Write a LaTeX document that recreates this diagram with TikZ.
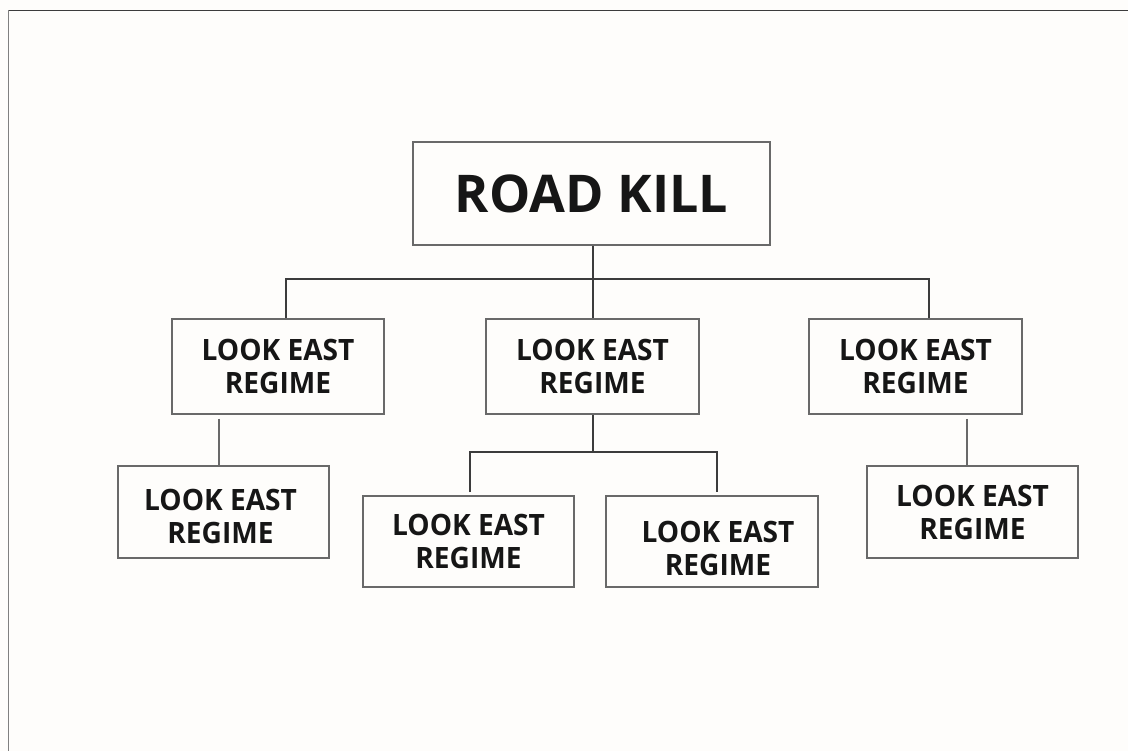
\documentclass[tikz,border=0pt]{standalone}
\usepackage{fontspec}
\setmainfont{Open Sans}
\newfontfamily\narrowfont[FakeStretch=0.955]{Open Sans}
\definecolor{bg}{RGB}{254,253,251}
\definecolor{boxgray}{RGB}{105,105,105}
\definecolor{conngray}{RGB}{60,60,60}
\definecolor{txtblack}{RGB}{22,22,22}
\begin{document}
\begin{tikzpicture}[x=1pt,y=-1pt,
  box/.style={draw=boxgray,line width=1.3pt,inner sep=0pt,align=center,text=txtblack,
    font=\narrowfont\fontsize{29.4}{33}\selectfont\bfseries},
  txt/.style={align=center,text=txtblack,inner sep=0pt,font=\narrowfont\fontsize{29.4}{33}\selectfont\bfseries},
  conn/.style={draw=conngray,line width=1.1pt},
  connl/.style={draw=boxgray,line width=1.3pt}]
\fill[bg] (0,0) rectangle (1128,751);
\useasboundingbox (0,0) rectangle (1128,751);
% frame
\coordinate (ftl) at (8.5,10.5);
\coordinate (ftr) at (1128,10.5);
\coordinate (fbl) at (8.5,751);
\draw[draw=conngray,line width=1.3pt] (ftl) -- (ftr);
\draw[draw=gray,line width=1.8pt] (ftl) -- (fbl);
% nodes
\node[box,minimum width=357pt,minimum height=103pt,font=\fontsize{52}{56}\selectfont\bfseries] (root) at (591.5,193.5) {ROAD KILL};
\node[box,minimum width=212pt,minimum height=95pt] (a) at (278,366.5) {LOOK EAST\\REGIME};
\node[box,minimum width=213pt,minimum height=95pt] (b) at (592.5,366.5) {LOOK EAST\\REGIME};
\node[box,minimum width=213pt,minimum height=95pt] (c) at (915.5,366.5) {LOOK EAST\\REGIME};
\node[box,minimum width=211pt,minimum height=92pt,
  label={[txt,xshift=-3pt,yshift=-4pt]center:LOOK EAST\\REGIME}] (a1) at (223.5,512) {};
\node[box,minimum width=211pt,minimum height=91pt] (b1) at (468.5,541.5) {LOOK EAST\\REGIME};
\node[box,minimum width=212pt,minimum height=91pt,
  label={[txt,xshift=6pt,yshift=-7pt]center:LOOK EAST\\REGIME}] (b2) at (712,541.5) {};
\node[box,minimum width=211pt,minimum height=92pt] (c1) at (972.5,512) {LOOK EAST\\REGIME};
% junctions
\coordinate (j0) at (593,279);
\coordinate (ja) at (286,279);
\coordinate (jc) at (929,279);
\coordinate (jb) at (593,452);
\coordinate (jb1) at (470,452);
\coordinate (jb2) at (717,452);
\coordinate (eb1) at (470,492);
\coordinate (eb2) at (717,492);
\coordinate (fa) at (219,419);
\coordinate (fc) at (967,419);
% connectors
\draw[conn] (root.south -| j0) -- (b.north -| j0);
\draw[conn] (a.north -| ja) -- (ja) -- (jc) -- (c.north -| jc);
\draw[conn] (b.south -| jb) -- (jb);
\draw[conn] (eb1) -- (jb1) -- (jb2) -- (eb2);
\draw[connl] (fa) -- (a1.north -| fa);
\draw[connl] (fc) -- (c1.north -| fc);
\end{tikzpicture}
\end{document}
